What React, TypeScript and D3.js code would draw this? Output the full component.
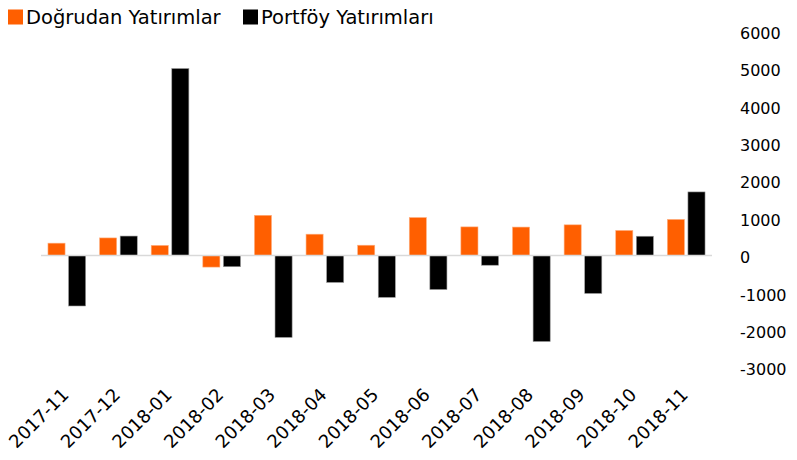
import React, { useRef, useEffect } from "react"
import * as d3 from "d3"

// Monthly flows (million USD)
const months = [
  "2017-11", "2017-12", "2018-01", "2018-02", "2018-03", "2018-04", "2018-05",
  "2018-06", "2018-07", "2018-08", "2018-09", "2018-10", "2018-11",
]
const direct = [330, 470, 270, -310, 1075, 570, 275, 1015, 765, 760, 820, 670, 965]
const portfolio = [-1350, 520, 5000, -300, -2190, -720, -1120, -910, -260, -2300, -1015, 515, 1700]
const yTicks = [6000, 5000, 4000, 3000, 2000, 1000, 0, -1000, -2000, -3000]
const seriesNames = ["Doğrudan Yatırımlar", "Portföy Yatırımları"]
const colors = ["#ff5f00", "#000000"]

const width = 797
const height = 460

const App: React.FC = () => {
  const svgRef = useRef<SVGSVGElement | null>(null)

  useEffect(() => {
    const svg = d3.select(svgRef.current)
    svg.selectAll("*").remove()

    const font = "'DejaVu Sans', sans-serif"

    // SCALES
    const x = d3.scaleBand<string>()
      .domain(months)
      .range([41, 712])
      .paddingInner(0.27)
      .paddingOuter(0.135)

    const xSub = d3.scaleBand<number>()
      .domain([0, 1])
      .range([0, x.bandwidth()])
      .paddingInner(0.17)

    const y = d3.scaleLinear()
      .domain([-3000, 6000])
      .range([367.7, 31.1])

    // BARS
    const series = [direct, portfolio]
    series.forEach((values, s) => {
      svg.append("g")
        .selectAll("rect")
        .data(values)
        .enter()
        .append("rect")
        .attr("x", (_d, i) => (x(months[i]) as number) + (xSub(s) as number))
        .attr("y", d => y(Math.max(0, d)))
        .attr("width", xSub.bandwidth())
        .attr("height", d => Math.abs(y(d) - y(0)))
        .attr("fill", colors[s])
        .attr("stroke", s === 0 ? "#ffb080" : "#999")
        .attr("stroke-width", 0.6)
    })

    // ZERO LINE
    svg.append("line")
      .attr("x1", 41)
      .attr("x2", 712)
      .attr("y1", y(0))
      .attr("y2", y(0))
      .attr("stroke", "#d9d9d9")
      .attr("stroke-width", 1.5)

    // Y AXIS LABELS (right side)
    svg.append("g")
      .selectAll("text")
      .data(yTicks)
      .enter()
      .append("text")
      .attr("x", 740)
      .attr("y", d => y(d) + 2)
      .attr("dy", "0.36em")
      .attr("font-family", font)
      .attr("font-size", 16)
      .attr("fill", "#000")
      .text(d => String(d))

    // X AXIS LABELS (rotated)
    svg.append("g")
      .selectAll("text")
      .data(months)
      .enter()
      .append("text")
      .attr("transform", d => `translate(${(x(d) as number) + x.bandwidth() / 2 + 3},${396}) rotate(-45)`)
      .attr("text-anchor", "end")
      .attr("font-family", font)
      .attr("font-size", 18)
      .attr("fill", "#000")
      .text(d => d)

    // LEGEND
    const legend = svg.append("g")
    const legendX = [8, 243]
    seriesNames.forEach((name, i) => {
      legend.append("rect")
        .attr("x", legendX[i])
        .attr("y", 9.5)
        .attr("width", 15)
        .attr("height", 15)
        .attr("fill", colors[i])
      legend.append("text")
        .attr("x", legendX[i] + 18)
        .attr("y", 24)
        .attr("font-family", font)
        .attr("font-size", 19.5)
        .attr("fill", "#000")
        .text(name)
    })
  }, [])

  return (
    <svg
      ref={svgRef}
      width={width}
      height={height}
      viewBox={`0 0 ${width} ${height}`}
      style={{ position: "absolute", left: 0, top: 0, background: "#fff" }}
    ></svg>
  )
}

export default App
